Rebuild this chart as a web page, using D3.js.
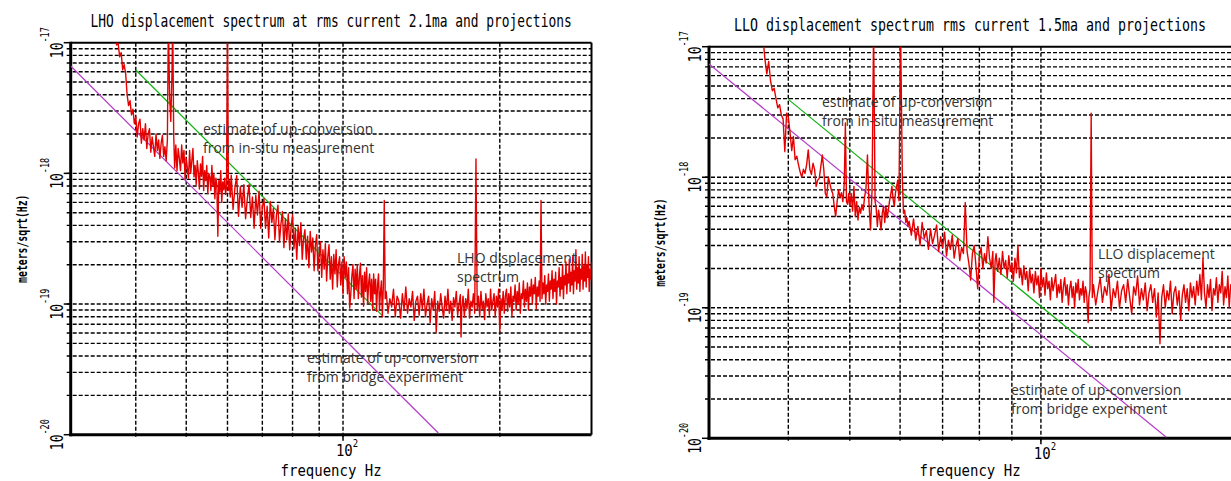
<!DOCTYPE html>
<html>
<head>
<meta charset="utf-8">
<script src="https://cdn.jsdelivr.net/npm/d3@7"></script>
<style>
body { margin: 0; background: #fff; overflow: hidden; }
.mono { font-family: "DejaVu Sans Mono", monospace; fill: #000; }
.note { font-family: "Open Sans", sans-serif; font-size: 14px; fill: #333; }
</style>
</head>
<body>
<svg id="chart" width="1231" height="481"></svg>
<script>
//------------------------------------------ Data ------------------------------------------
// spectrum amplitudes are in units of 1e-19 m/sqrt(Hz), frequencies in Hz
var AMP = 1e-19;

var lhoSpectrum = [
	[36.5,130],[36.75,96],[37,99],[37.25,78],[37.5,84],[37.75,62],[38,68],[38.25,58],[38.5,40],[38.75,33],
	[39,36],[39.25,28],[39.5,31],[39.75,24],[40,27],[40.25,19],[40.5,24],[40.75,26],[41,17],[41.25,22],
	[41.5,18],[41.75,24],[42,15.5],[42.25,20],[42.5,22],[42.75,14.5],[43,19],[43.25,16],[43.5,13.5],[43.75,20],
	[44,15],[44.25,18],[44.5,13],[44.75,17],[45,19.5],[45.25,13.5],[45.5,16],[45.75,12.5],[46,18],[46.2,150],
	[46.45,40],[46.7,25],[46.95,60],[47.1,150],[47.3,20],[47.5,11],[47.75,16.5],[48,10.5],[48.25,15.5],[48.5,13],
	[48.75,10.5],[49,16.5],[49.25,12],[49.5,15],[49.75,9.0],[50,13],[50.25,11],[50.5,9.2],[50.75,15],[51,10],
	[51.25,12.5],[51.5,15.5],[51.75,9.4],[52,11.5],[52.25,8.2],[52.5,12.5],[52.75,10.2],[53,7.6],[53.25,11.8],[53.5,9.5],
	[53.75,13.5],[54,7.4],[54.25,10.5],[54.5,8.8],[54.75,11.5],[55,7.0],[55.25,10],[55.5,9.4],[55.75,7.4],[56,11.5],
	[56.25,8],[56.5,9.8],[56.75,6.4],[57,9.2],[57.25,8.2],[57.5,3.3],[57.75,8.8],[58,7.2],[58.25,10.5],[58.5,6.0],
	[58.75,8.6],[59,7.5],[59.25,9.2],[59.5,6.9],[59.75,8],[60,140],[60.25,7.4],[60.5,8.8],[60.75,6.6],
	[61,9.7],[61.5,5.3],[62,7.7],[62.5,9.6],[63,4.7],[63.5,7.9],[64,5.5],[64.5,8.2],[65,4.5],[65.5,6.4],
	[66,8.2],[66.5,4.6],[67,6.6],[67.5,3.8],[68,6.8],[68.5,4.8],[69,7.3],[69.5,3.8],[70,5.5],[70.5,6.4],
	[71,3.8],[71.5,5.6],[72,3.2],[72.5,6.1],[73,4.2],[73.5,5.4],[74,3.1],[74.5,4.8],[75,5.7],[75.5,3.0],
	[76,4.1],[76.5,5.1],[77,2.7],[77.5,4.5],[78,3.1],[78.5,4.9],[79,2.6],[79.5,3.9],[80,4.8],[80.5,2.65],
	[81,3.8],[81.5,2.2],[82,3.9],[82.5,2.8],[83,4.2],[83.5,2.2],[84,3.2],[84.5,3.7],[85,2.2],[85.5,3.3],
	[86,1.9],[86.5,3.6],[87,2.5],[87.5,3.2],[88,1.8],[88.5,2.8],[89,3.4],[89.5,1.8],[90,2.4],[90.5,3.0],
	[91,1.6],[91.5,2.6],[92,1.85],[92.5,2.9],[93,1.5],[93.5,2.3],[94,2.85],[94.5,1.55],[95,2.3],[95.5,1.3],
	[96,2.4],[96.5,1.7],[97,2.6],[97.5,1.35],[98,2.0],[98.5,2.3],[99,1.4],[99.5,2.1],[100,1.2],[100.5,2.3],
	[101,1.6],[101.5,2.1],[102,1.2],[102.5,1.9],[103,0.93],[103.5,1.2],[104,1.65],[104.5,2.0],[105,1.1],[105.5,1.85],
	[106,1.3],[106.5,2.0],[107,1.1],[107.5,1.6],[108,2.05],[108.5,1.13],[109,1.65],[109.5,0.96],[110,1.75],[110.5,1.25],
	[111,1.9],[111.5,1.0],[112,1.45],[112.5,1.7],[113,1.05],[113.5,1.55],[114,0.9],[114.5,1.7],[115,1.2],[115.5,1.55],
	[116,0.88],[116.5,1.4],[117,1.7],[117.5,0.9],[118,1.23],[118.5,1.5],[119,0.8],[119.5,1.35],[120,6.2],[120.5,1.1],
	[121,1.25],[122,0.85],[123,1.1],[124,0.95],[125,1.3],[126,0.8],[127,1.15],[128,1.05],[129,0.78],[130,1.2],
	[131,0.9],[132,1.35],[133,0.85],[134,1.1],[135,0.95],[136,1.25],[137,0.75],[138,1.05],[139,1.15],[140,0.82],
	[141,1.2],[142,0.92],[143,1.3],[144,0.8],[145,1.0],[146,1.15],[147,0.72],[148,1.1],[149,0.9],[150,1.25],
	[151,0.61],[152,1.05],[153,0.88],[154,1.2],[155,0.95],[156,0.78],[157,1.15],[158,0.9],[159,1.3],[160,0.85],
	[161,1.05],[162,0.75],[163,1.12],[164,0.95],[165,1.25],[166,0.82],[167,1.0],[168,1.18],[168.5,0.56],[169,0.9],
	[170,1.15],[171,0.8],[172,1.1],[173,0.92],[174,1.3],[175,0.78],[176,1.05],[177,0.95],[178,1.2],[179,0.85],
	[180,12.9],[181,0.9],[182,1.15],[183,0.8],[184,1.25],[185,0.92],[186,1.05],[187,0.76],[188,1.2],[189,0.95],
	[190,1.1],[191,0.82],[192,1.3],[193,0.9],[194,1.05],[195,1.2],[196,0.8],[197,1.15],[198,0.95],[199,1.3],
	[200,0.61],[201,1.1],[202,0.9],[203,1.25],[204,0.85],[205,1.15],[206,1.3],[207,0.88],[208,1.2],[209,0.95],
	[210,1.35],[211,0.8],[212,1.15],[213,1.05],[214,1.4],[215,0.9],[216,1.25],[217,1.0],[218,1.45],[219,0.85],
	[220,1.2],[221,1.1],[222,1.5],[223,0.95],[224,1.3],[225,1.05],[226,1.45],[227,0.9],[228,1.35],[229,1.15],
	[230,1.55],[231,1.0],[232,1.4],[233,1.2],[234,1.6],[235,0.92],[236,1.35],[237,1.15],[238,1.5],[239,1.05],
	[240,6.2],[241,1.1],[242,1.45],[243,1.2],[244,1.65],[245,1.0],[246,1.4],[247,1.25],[248,1.7],[249,1.05],
	[250,1.5],[251,1.3],[252,1.8],[253,1.1],[254,1.55],[255,1.25],[256,1.75],[257,1.0],[258,1.5],[259,1.35],
	[260,1.9],[261,1.15],[262,1.6],[263,1.3],[264,2.0],[265,1.1],[266,1.65],[267,1.4],[268,2.1],[269,1.2],
	[270,1.7],[271,1.45],[272,2.2],[273,1.25],[274,1.75],[275,1.4],[276,2.3],[277,1.2],[278,1.8],[279,1.5],
	[280,2.6],[281,1.3],[282,1.9],[283,1.45],[284,2.3],[285,1.25],[286,1.85],[287,1.55],[288,2.4],[289,1.3],
	[290,1.95],[291,1.5],[292,2.5],[293,1.35],[294,2.0],[295,1.6],[296,2.3],[297,1.25],[298,1.85],[299,1.55],
	[300,2.1]
];

var lloSpectrum = [
	[36.5,115],[36.75,80],[37,62],[37.25,77],[37.5,55],[37.75,46],[38,48],[38.25,40],[38.5,34],[38.75,36],
	[39,30],[39.25,28],[39.5,15.7],[39.75,31],[40,29],[40.25,22],[40.5,16],[40.75,20.5],[41,13.6],[41.25,14.5],
	[41.5,12.5],[41.75,11],[42,10],[42.25,11.5],[42.5,10.7],[42.75,12.5],[43,16.2],[43.25,11.5],[43.5,10.5],[43.75,12.8],
	[44,11.5],[44.25,8.5],[44.5,9.5],[44.75,9.8],[45,12],[45.25,14.8],[45.5,11.4],[45.75,7.5],[46,7.1],[46.25,10],
	[46.5,9],[46.75,8],[47,7.5],[47.25,6],[47.5,5],[47.75,6.5],[48,8],[48.25,7],[48.5,7.6],[48.75,6.5],
	[49,9],[49.2,26],[49.4,6.5],[49.6,6.2],[49.8,7.5],[50,6],[50.25,7.5],[50.5,5.5],[50.75,8.5],[51,5.0],
	[51.25,6.5],[51.5,4.7],[51.75,5.9],[52,5.3],[52.25,6.2],[52.5,5.6],[52.75,7.1],[53,8.0],[53.3,14.8],[53.6,6.3],
	[53.9,3.95],[54.2,8],[54.5,140],[54.8,6.5],[55,5.9],[55.25,4.2],[55.5,5.6],[55.75,4.8],[56,3.95],[56.25,5.3],
	[56.5,6.0],[56.75,4.5],[57,5.9],[57.25,4.9],[57.5,5.6],[57.75,6.6],[58,7.4],[58.25,8.5],[58.5,6.8],[58.75,6.0],
	[59,7.6],[59.5,9.5],[59.75,6.6],[60.1,140],[60.5,9.5],[60.75,5.3],[61,5.6],[61.25,4.5],[61.5,4.9],[61.75,4.2],
	[62,4.6],[62.5,3.6],[63,4.8],[63.5,3.3],[64,4.2],[64.5,3.0],[65,4.5],[65.5,3.4],[66,3.9],[66.5,2.8],
	[67,4.0],[67.5,3.1],[68,3.6],[68.5,4.3],[69,2.7],[69.5,3.5],[70,2.9],[70.5,3.8],[71,2.5],[71.5,3.3],
	[72,2.8],[72.5,3.6],[73,2.4],[73.5,3.0],[74,3.4],[74.5,2.3],[75,2.9],[75.5,2.6],[76,6.4],[76.5,2.7],
	[77,2.2],[77.5,1.63],[78,2.6],[78.5,3.0],[79,2.1],[79.5,1.4],[80,2.5],[80.5,2.9],[81,2.0],[81.5,2.6],
	[82,2.2],[82.5,3.5],[83,2.4],[83.5,2.0],[84,2.7],[84.3,1.1],[84.7,2.3],[85,2.6],[85.5,1.9],[86,2.4],
	[86.5,1.8],[87,2.7],[87.5,2.0],[88,2.3],[88.5,1.7],[89,2.5],[89.5,1.9],[90,2.2],[90.5,1.6],[91,2.4],
	[91.5,1.85],[92,3.0],[92.5,1.7],[93,2.0],[93.5,1.5],[94,2.1],[94.5,1.65],[95,1.9],[95.5,1.35],[96,2.0],
	[96.5,1.55],[97,1.8],[97.5,1.3],[98,1.9],[98.5,1.5],[99,1.75],[99.5,1.2],[100,2.0],[100.5,1.45],[101,1.7],
	[101.5,1.25],[102,1.85],[102.5,1.4],[103,1.6],[103.5,1.15],[104,1.7],[104.5,1.35],[105,1.55],[105.5,1.8],[106,1.2],
	[106.5,1.5],[107,1.3],[107.5,1.65],[108,1.1],[108.5,1.45],[109,1.7],[109.5,1.25],[110,1.5],[110.5,1.05],[111,1.4],
	[111.5,1.6],[112,1.2],[112.5,1.45],[113,1.0],[113.5,1.55],[114,1.3],[114.5,1.65],[115,1.15],[115.5,1.4],[116,1.25],
	[116.5,1.6],[117,1.1],[117.5,1.45],[118,1.3],[118.7,0.77],[119,1.2],[119.5,1.4],[120,31],[120.5,1.2],
	[121,1.5],[122,1.05],[123,1.35],[124,1.7],[125,1.1],[126,1.45],[127,1.25],[128,1.8],[129,0.95],[130,1.4],
	[131,1.2],[132,1.6],[133,1.0],[134,1.35],[135,1.5],[136,1.1],[137,1.65],[138,1.2],[139,0.9],[140,1.45],
	[141,1.25],[142,1.75],[143,1.05],[144,1.4],[145,1.15],[146,1.55],[147,0.95],[148,1.3],[149,1.5],[150,1.1],
	[151,1.4],[152,0.85],[153,1.3],[154,0.53],[155,1.2],[156,1.5],[157,1.0],[158,1.35],[159,1.15],[160,1.6],
	[161,0.9],[162,1.3],[163,1.45],[164,1.05],[165,1.35],[166,0.8],[167,1.25],[168,1.5],[169,1.1],[170,1.4],
	[171,0.95],[172,1.55],[173,1.2],[174,1.45],[175,1.05],[176,1.6],[177,1.25],[178,1.8],[179,1.15],[180,2.4],
	[181,1.3],[182,1.0],[183,1.5],[184,1.2],[185,1.65],[186,0.95],[187,1.4],[188,1.25],[189,1.7],[190,1.1],
	[191,1.5],[192,1.3],[193,1.9],[194,1.05],[195,1.45],[196,1.2],[197,1.75],[198,1.0],[199,1.5],[200,1.35]
];

// straight f^-4 projections (end points), same units
var lhoInsitu = [[40,61.8],[119.5,0.80]];
var lhoBridge = [[30,66.3],[152.4,0.103]];
var lloInsitu = [[40,39.5],[119.6,0.503]];
var lloBridge = [[30,73.7],[157.6,0.102]];

var gridFreqs = [40, 50, 60, 70, 80, 90, 100, 200];
var xTickFreqs = [100];
var decades = [-20, -19, -18, -17];

var panels = [
	{title: "LHO displacement spectrum at rms current 2.1ma and projections", titleSize: 12.9,
	 fmax: 300, left: 70.7, right: 591.5, top: 42.7, bottom: 434.7,
	 spectrum: lhoSpectrum, insitu: lhoInsitu, bridge: lhoBridge,
	 notes: [
		{x: 203, y: 134, lines: ["estimate of up-conversion", "from in-situ measurement"]},
		{x: 457, y: 263, lines: ["LHO displacement", "spectrum"]},
		{x: 307, y: 363, lines: ["estimate of up-conversion", "from bridge experiment"]}
	 ]},
	{title: "LLO displacement spectrum rms current 1.5ma and projections", titleSize: 13.3,
	 fmax: 200, left: 709, right: 1232, top: 46.7, bottom: 438.3,
	 spectrum: lloSpectrum, insitu: lloInsitu, bridge: lloBridge,
	 notes: [
		{x: 822, y: 107, lines: ["estimate of up-conversion", "from in-situ measurement"]},
		{x: 1098, y: 259, lines: ["LLO displacement", "spectrum"]},
		{x: 1011, y: 395, lines: ["estimate of up-conversion", "from bridge experiment"]}
	 ]}
];

//------------------------------------------ Draw ------------------------------------------
var svg = d3.select("#chart");

panels.forEach(function(p, k) {
	var x = d3.scaleLog().domain([30, p.fmax]).range([p.left, p.right]);
	var y = d3.scaleLog().domain([1e-20, 1e-17]).range([p.bottom, p.top]);
	var g = svg.append("g");

	//grid values: every 1..9 x 10^n
	var yGrid = [];
	decades.slice(0, 3).forEach(function(e) {
		for (var m = 1; m < 10; m++) yGrid.push(+(m + "e" + e));
	});
	yGrid = yGrid.filter(function(v) { return v > 1e-20; });

	//dashed grid
	g.selectAll(".hgrid").data(yGrid).enter().append("line")
		.attr("x1", p.left - 4).attr("x2", p.right)
		.attr("y1", function(d) { return y(d); }).attr("y2", function(d) { return y(d); })
		.style("stroke", "#000").style("stroke-width", 1.4).style("stroke-dasharray", "4,2");
	g.selectAll(".vgrid").data(gridFreqs.filter(function(f) { return f < p.fmax; })).enter().append("line")
		.attr("x1", function(d) { return x(d); }).attr("x2", function(d) { return x(d); })
		.attr("y1", p.top).attr("y2", p.bottom + 4)
		.style("stroke", "#000").style("stroke-width", 1.4).style("stroke-dasharray", "4,2");

	//major ticks on the y axis
	g.selectAll(".ytick").data(decades).enter().append("line")
		.attr("x1", p.left - 7).attr("x2", p.left)
		.attr("y1", function(d) { return y(Math.pow(10, d)); }).attr("y2", function(d) { return y(Math.pow(10, d)); })
		.style("stroke", "#000").style("stroke-width", 1.5);
	g.selectAll(".xtick").data(xTickFreqs).enter().append("line")
		.attr("x1", function(d) { return x(d); }).attr("x2", function(d) { return x(d); })
		.attr("y1", p.bottom).attr("y2", p.bottom + 6)
		.style("stroke", "#000").style("stroke-width", 1.5);

	//frame
	g.append("line").attr("x1", p.left).attr("x2", p.right).attr("y1", p.top).attr("y2", p.top)
		.style("stroke", "#000").style("stroke-width", 2);
	g.append("line").attr("x1", p.right).attr("x2", p.right).attr("y1", p.top).attr("y2", p.bottom)
		.style("stroke", "#000").style("stroke-width", 2);
	g.append("line").attr("x1", p.left).attr("x2", p.left).attr("y1", p.top - 1).attr("y2", p.bottom + 1.5)
		.style("stroke", "#000").style("stroke-width", 3);
	g.append("line").attr("x1", p.left - 1.5).attr("x2", p.right).attr("y1", p.bottom).attr("y2", p.bottom)
		.style("stroke", "#000").style("stroke-width", 3);

	//clip for the curves
	svg.append("clipPath").attr("id", "clip" + k).append("rect")
		.attr("x", p.left).attr("y", p.top).attr("width", p.right - p.left).attr("height", p.bottom - p.top);

	var line = d3.line()
		.x(function(d) { return x(d[0]); })
		.y(function(d) { return y(d[1] * AMP); });

	var curves = g.append("g").attr("clip-path", "url(#clip" + k + ")");
	curves.append("path").datum(p.bridge).attr("d", line)
		.style("fill", "none").style("stroke", "#b43cc8").style("stroke-width", 1.2);
	curves.append("path").datum(p.insitu).attr("d", line)
		.style("fill", "none").style("stroke", "#10b010").style("stroke-width", 1.2);
	curves.append("path").datum(p.spectrum).attr("d", line)
		.style("fill", "none").style("stroke", "#e60000").style("stroke-width", 1.4)
		.style("stroke-linejoin", "round");

	//y tick labels, rotated: 10 with superscript exponent
	var yl = g.selectAll(".ylab").data(decades).enter().append("text")
		.attr("class", "mono")
		.attr("transform", function(d) { return "translate(" + (p.left - 8) + "," + y(Math.pow(10, d)) + ") rotate(-90) scale(1,1.35)"; })
		.attr("text-anchor", "middle")
		.style("font-size", "13px");
	yl.append("tspan").text("10");
	yl.append("tspan").attr("dy", -10).style("font-size", "8.5px").text(function(d) { return d; });

	//x tick labels
	var xl = g.selectAll(".xlab").data(xTickFreqs).enter().append("text")
		.attr("class", "mono")
		.attr("transform", function(d) { return "translate(" + (x(d) + 4) + "," + (p.bottom + 21) + ") scale(1,1.15)"; })
		.attr("text-anchor", "middle")
		.style("font-size", "14px");
	xl.append("tspan").text("10");
	xl.append("tspan").attr("dy", -8).style("font-size", "9px").text(function(d) { return Math.round(Math.log10(d)); });

	//titles
	var cx = (p.left + Math.min(p.right, 1231)) / 2;
	g.append("text").attr("class", "mono")
		.attr("transform", "translate(" + cx + "," + (p.top - 16) + ") scale(1,1.35)")
		.attr("text-anchor", "middle")
		.style("font-size", p.titleSize + "px")
		.text(p.title);
	g.append("text").attr("class", "mono")
		.attr("transform", "translate(" + cx + ",476) scale(1,1.12)")
		.attr("text-anchor", "middle")
		.style("font-size", "14px")
		.text("frequency Hz");
	g.append("text").attr("class", "mono")
		.attr("transform", "translate(" + (p.left - 44) + "," + ((p.top + p.bottom) / 2) + ") rotate(-90) scale(1,1.4)")
		.attr("text-anchor", "middle")
		.style("font-size", "9.8px")
		.style("font-weight", "bold")
		.text("meters/sqrt(Hz)");

	//annotations
	p.notes.forEach(function(n) {
		g.selectAll(null).data(n.lines).enter().append("text")
			.attr("class", "note")
			.attr("x", n.x)
			.attr("y", function(d, i) { return n.y + i * 19; })
			.text(function(d) { return d; });
	});
});
</script>
</body>
</html>
